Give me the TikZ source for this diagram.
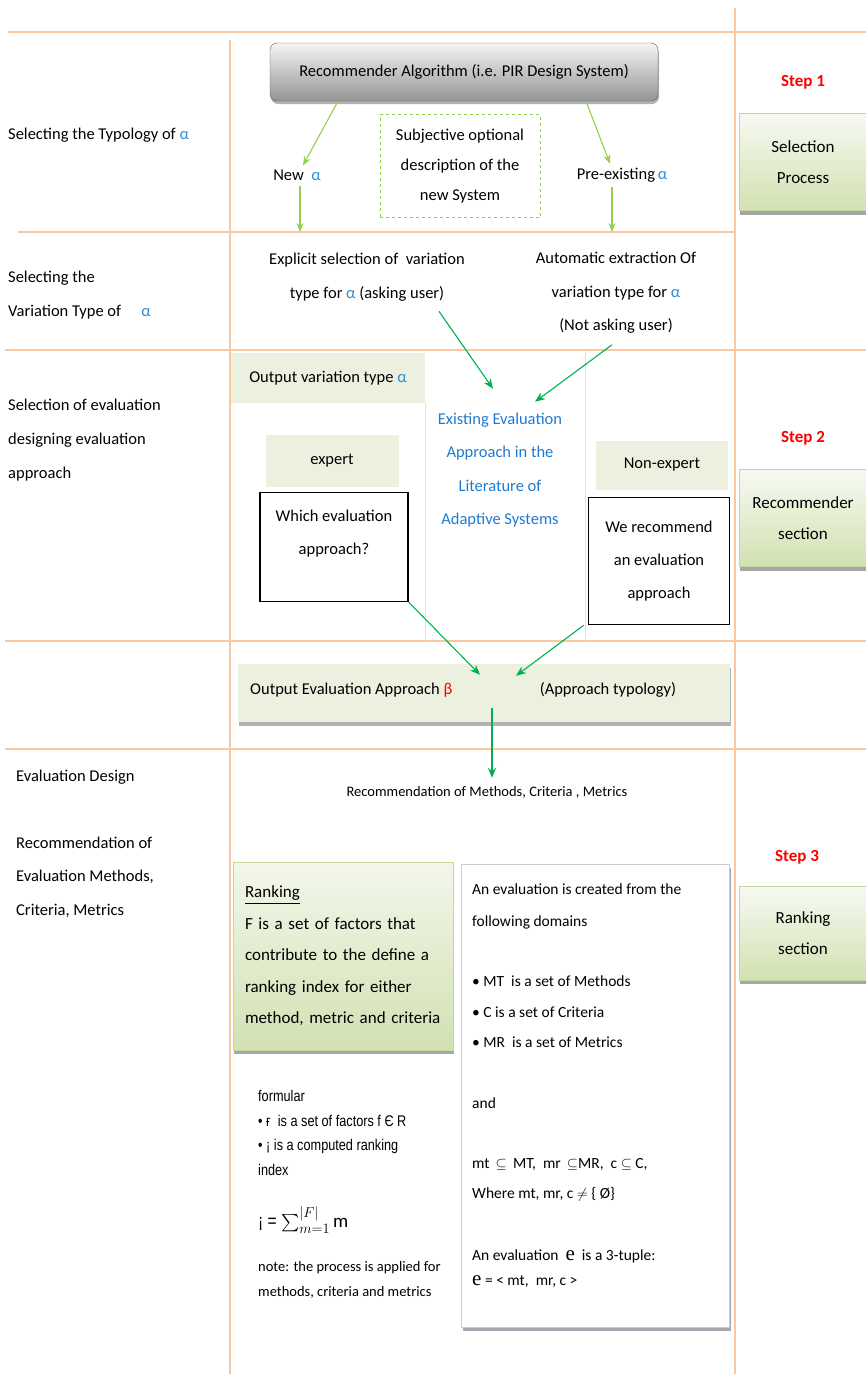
\documentclass[tikz,border=0pt]{standalone}
\usepackage{amsmath}
\usepackage{fontspec}
\setmainfont{Carlito}
\newfontfamily\narrowfont[FakeStretch=0.82]{Liberation Sans}
\newfontfamily\serifface{Liberation Serif}
\usetikzlibrary{arrows.meta,shadows}
\definecolor{gridorange}{HTML}{FAC8A0}
\definecolor{lightgreen}{HTML}{92D050}
\definecolor{darkgreen}{HTML}{00B050}
\definecolor{alphablue}{HTML}{2E8FD6}
\definecolor{textblue}{HTML}{1F7BD0}
\definecolor{palegreen}{HTML}{EBF1DE}
\definecolor{midgreen}{HTML}{D2E1B2}
\definecolor{edgegreen}{HTML}{C3D69B}
\newcommand{\alphab}{{\color{alphablue}α}}
\tikzset{
  gridline/.style={gridorange, line width=1.2pt},
  thinline/.style={gridorange!70, line width=0.6pt},
  plain/.style={inner sep=0pt, align=center, font=\fontsize{16.5}{34}\selectfont},
  sidetext/.style={plain, anchor=west, align=left},
  steptext/.style={inner sep=0pt, text=red, font=\fontsize{17}{20}\selectfont\bfseries},
  lgarrow/.style={lightgreen, line width=1.1pt, -{Stealth[length=9pt,width=7pt]}},
  dgarrow/.style={darkgreen, line width=1.1pt, -{Stealth[length=10pt,width=8pt]}},
  algbox/.style={draw=black!65, rounded corners=7pt, top color=black!4, bottom color=black!42,
    minimum width=388, minimum height=58, font=\fontsize{16.5}{20}\selectfont,
    drop shadow={shadow xshift=1pt, shadow yshift=-3pt, fill=black!30, opacity=1}},
  dashbox/.style={draw=lightgreen, dashed, line width=1pt, minimum width=160, minimum height=103,
    inner sep=0pt, align=center, font=\fontsize{16.5}{30}\selectfont},
  palebox/.style={fill=palegreen, inner sep=0pt, align=center, font=\fontsize{16.5}{20}\selectfont},
  blackbox/.style={draw=black, fill=white, line width=1.5pt, inner sep=0pt, align=center,
    font=\fontsize{16.5}{33}\selectfont},
  greenbox/.style={draw=edgegreen, top color=white!60!palegreen, bottom color=midgreen,
    minimum width=128, align=center, inner sep=0pt, font=\fontsize{17}{31}\selectfont,
    drop shadow={shadow xshift=1pt, shadow yshift=-4pt, fill=black!35, opacity=1}},
  outbox/.style={fill=palegreen, minimum width=492, minimum height=58,
    drop shadow={shadow xshift=1pt, shadow yshift=-4pt, fill=black!30, opacity=1}},
  evalbox/.style={draw=black!20, fill=white, minimum width=268, minimum height=463,
    drop shadow={shadow xshift=2pt, shadow yshift=-3pt, fill=blue!10!black!35, opacity=1}},
  evaltext/.style={inner sep=0pt, anchor=west, align=left, font=\fontsize{15.5}{30.5}\selectfont},
}
\begin{document}
\begin{tikzpicture}[x=1pt, y=-1pt]
  \useasboundingbox (0,0) rectangle (866,1374);
  % grid of the table
  \draw[gridline] (8,32) -- (866,32);
  \draw[gridline] (18,232) -- (735,232);
  \draw[gridline] (5,350) -- (866,350);
  \draw[gridline] (5,641) -- (866,641);
  \draw[gridline] (5,749) -- (866,749);
  \draw[gridline] (230,40) -- (230,1374);
  \draw[gridline] (735,8) -- (735,1374);
  \draw[thinline] (425,403) -- (425,641);
  \draw[thinline] (585,350) -- (585,641);

  % left column
  \node[sidetext] (typo) at (8,135) {Selecting the Typology of \alphab};
  \node[sidetext] (vartype) at (8,295) {Selecting the\\Variation Type of \quad\alphab};
  \node[sidetext] (selev) at (8,440) {Selection of evaluation\\designing evaluation\\approach};
  \node[sidetext] (evdesign) at (16,777) {Evaluation Design};
  \node[sidetext, font=\fontsize{16.5}{33.5}\selectfont] (recev) at (16,877)
    {Recommendation of\\Evaluation Methods,\\Criteria, Metrics};

  % right column
  \node[steptext] (step1) at (803,82) {Step 1};
  \node[greenbox, minimum height=97] (selproc) at (803,162) {Selection\\Process};
  \node[steptext] (step2) at (803,438) {Step 2};
  \node[greenbox, minimum height=97] (recsec) at (803,518) {Recommender\\section};
  \node[steptext] (step3) at (797,857) {Step 3};
  \node[greenbox, minimum height=94] (ranksec) at (803,933) {Ranking\\section};

  % row 1
  \node[algbox] (alg) at (464,72) {Recommender Algorithm (i.e. PIR Design System)};
  \node[plain] (newa) at (297,175) {New \ \alphab};
  \node[plain] (pre) at (622,175) {Pre-existing\,\alphab};
  \node[dashbox] (subj) at (460,166) {Subjective optional\\description of the\\new System};
  \coordinate (newend) at (300,232);
  \coordinate (preend) at (612,232);

  % row 2
  \node[plain] (expl) at (367,277) {Explicit selection of \ variation\\type for \alphab\ (asking user)};
  \node[plain, font=\fontsize{16.5}{33.5}\selectfont] (autoext) at (616,293)
    {Automatic extraction Of\\variation type for \alphab\\(Not asking user)};

  % row 3
  \node[palebox, minimum width=194, minimum height=50] (outvar) at (328,378) {Output variation type \alphab};
  \node[palebox, minimum width=133, minimum height=52] (expert) at (332,461) {expert};
  \node[palebox, minimum width=132, minimum height=49] (nonexp) at (662,465) {Non-expert};
  \node[blackbox, minimum width=148, minimum height=109] (which) at (334,547) {};
  \node[plain, font=\fontsize{16.5}{33}\selectfont] (whichtext) at (334,534) {Which evaluation\\approach?};
  \node[blackbox, minimum width=141, minimum height=127] (rec) at (659,561)
    {We recommend\\an evaluation\\approach};
  \node[plain, text=textblue, font=\fontsize{16.5}{33.3}\selectfont] (exist) at (500,470)
    {Existing Evaluation\\Approach in the\\Literature of\\Adaptive Systems};

  % row 4
  \node[outbox] (outeval) at (484,693) {};
  \node[sidetext] (outtxt) at (250,690) {Output Evaluation Approach {\color{red}β}};
  \node[plain] (apptypo) at (608,690) {(Approach typology)};

  % row 5
  \node[plain, font=\fontsize{14.5}{18}\selectfont] (recm) at (487,792)
    {Recommendation of Methods, Criteria , Metrics};
  \node[greenbox, minimum width=220, minimum height=188, text width=196, align=left,
    top color=white!40!palegreen, font=\fontsize{17}{31.5}\selectfont] (rank) at (343,956)
    {\underline{Ranking}\\F is a set of factors that\\contribute to the define a\\ranking index for either\\method, metric and criteria};
  \node[sidetext, font=\fontsize{15.5}{24.5}\narrowfont] (formular) at (258,1133)
    {formular\\• ғ \ is a set of factors f Є R\\• ¡ is a computed ranking\\index};
  \node[sidetext, font=\fontsize{19}{22}\narrowfont] (formula) at (258,1220)
    {¡ = $\sum\nolimits_{m=1}^{|F|}\mathrm{m}$};
  \node[sidetext, font=\fontsize{14.5}{25}\selectfont] (note) at (258,1280)
    {note: the process is applied for\\methods, criteria and metrics};

  \node[evalbox] (evalset) at (595,1096) {};
  \node[evaltext, font=\fontsize{15.5}{32}\selectfont] (created) at (472,906)
    {An evaluation is created from the\\following domains};
  \node[evaltext] (domains) at (472,1012)
    {• MT \ is a set of Methods\\• C is a set of Criteria\\• MR \ is a set of Metrics};
  \node[evaltext] (andtxt) at (472,1103) {and};
  \node[evaltext] (subsets) at (472,1180)
    {mt \,$\subseteq$\, MT, \ mr \,$\subseteq$MR, \ c $\subseteq$ C,\\Where mt, mr, c $\neq$ \{ Ø\}};
  \node[evaltext, font=\fontsize{15.5}{25}\selectfont] (tuple) at (472,1269)
    {An evaluation \ {\serifface\fontsize{21}{21}\selectfont e} \ is a 3-tuple:\\{\serifface\fontsize{21}{21}\selectfont e} = < mt, \ mr, c >};

  % connectors
  \draw[lgarrow] ([xshift=-126pt]alg.south) -- ([xshift=6pt,yshift=4pt]newa.north);
  \draw[lgarrow] ([xshift=122pt]alg.south) -- ([xshift=-12pt,yshift=4pt]pre.north);
  \draw[lgarrow] ([xshift=3pt,yshift=-5pt]newa.south) -- (newend);
  \draw[lgarrow] ([xshift=-10pt,yshift=-5pt]pre.south) -- (preend);
  \draw[dgarrow] ([xshift=72pt,yshift=-10pt]expl.south) -- ([xshift=-7pt,yshift=24pt]exist.north);
  \draw[dgarrow] ([xshift=-4pt,yshift=-11pt]autoext.south) -- ([xshift=35pt,yshift=11pt]exist.north);
  \draw[dgarrow] (which.south east) -- ([xshift=-4pt,yshift=-11pt]outeval.north);
  \draw[dgarrow] ([xshift=-4pt]rec.south west) -- ([xshift=32pt,yshift=-12pt]outeval.north);
  \draw[dgarrow] ([xshift=8pt,yshift=14pt]outeval.south) -- ([xshift=5pt,yshift=8pt]recm.north);
\end{tikzpicture}
\end{document}
